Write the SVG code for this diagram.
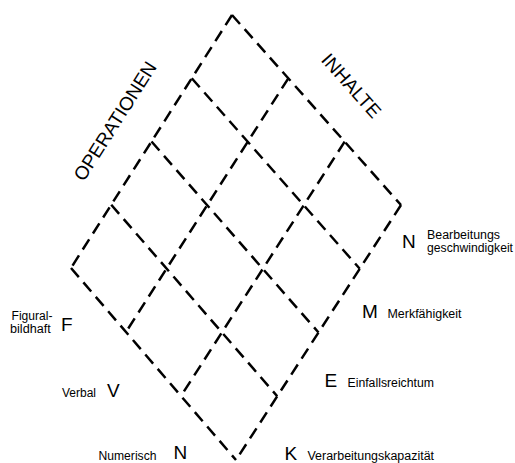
<svg xmlns="http://www.w3.org/2000/svg" width="515" height="463" viewBox="0 0 515 463">
<style>
.g line{stroke:#000;stroke-width:2.5;stroke-dasharray:12 7;fill:none}
text{font-family:"Liberation Sans",Arial,sans-serif;fill:#000}
.big{font-size:19px}
.sm{font-size:12.5px}
.ax{font-size:19px}
</style>
<rect width="515" height="463" fill="#fff"/>
<g id="grid" class="g">
<line x1="232" y1="15" x2="401" y2="205"/>
<line x1="191.75" y1="78.25" x2="359.75" y2="268.75"/>
<line x1="151.5" y1="141.5" x2="318.5" y2="332.5"/>
<line x1="111.25" y1="204.75" x2="277.25" y2="396.25"/>
<line x1="71" y1="268" x2="236" y2="460"/>
<line x1="232" y1="15" x2="71" y2="268"/>
<line x1="288.33" y1="78.33" x2="126" y2="332"/>
<line x1="344.67" y1="141.67" x2="181" y2="396"/>
<line x1="401" y1="205" x2="236" y2="460"/>
</g>
<g id="axis-operationen"><text class="ax" text-anchor="middle" dy="0.35em" transform="translate(115,121) rotate(-57.5)">OPERATIONEN</text></g>
<g id="axis-inhalte"><text class="ax" text-anchor="middle" dy="0.35em" transform="translate(351.5,85.5) rotate(48.4)">INHALTE</text></g>
<g id="label-N-bearbeitung">
<text class="big" x="402" y="248">N</text>
<text class="sm" x="427" y="238.5" textLength="73" lengthAdjust="spacingAndGlyphs">Bearbeitungs</text>
<text class="sm" x="427" y="252" textLength="86" lengthAdjust="spacingAndGlyphs">geschwindigkeit</text>
</g>
<g id="label-M">
<text class="big" x="362" y="318">M</text>
<text class="sm" x="387.5" y="318.3" textLength="74" lengthAdjust="spacingAndGlyphs">Merkfähigkeit</text>
</g>
<g id="label-E">
<text class="big" x="324.5" y="387">E</text>
<text class="sm" x="347.5" y="387.3" textLength="86.5" lengthAdjust="spacingAndGlyphs">Einfallsreichtum</text>
</g>
<g id="label-K">
<text class="big" x="284.5" y="459.5">K</text>
<text class="sm" x="307.5" y="459.5" textLength="126.5" lengthAdjust="spacingAndGlyphs">Verarbeitungskapazität</text>
</g>
<g id="label-F">
<text class="big" x="61" y="331">F</text>
<text class="sm" x="11.5" y="320" textLength="41" lengthAdjust="spacingAndGlyphs">Figural-</text>
<text class="sm" x="10" y="333" textLength="40.7" lengthAdjust="spacingAndGlyphs">bildhaft</text>
</g>
<g id="label-V">
<text class="big" x="107" y="397">V</text>
<text class="sm" x="62" y="397" textLength="34" lengthAdjust="spacingAndGlyphs">Verbal</text>
</g>
<g id="label-N-numerisch">
<text class="big" x="173.6" y="459">N</text>
<text class="sm" x="98.5" y="459.5" textLength="58" lengthAdjust="spacingAndGlyphs">Numerisch</text>
</g>
</svg>
